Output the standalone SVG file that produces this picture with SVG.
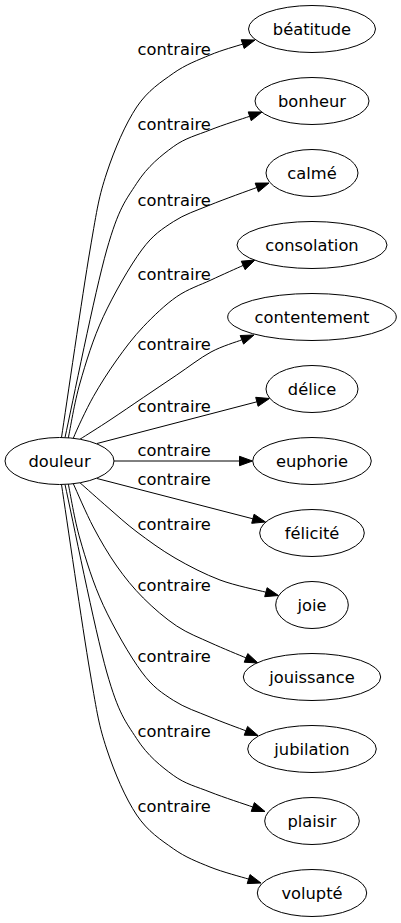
<svg xmlns="http://www.w3.org/2000/svg" width="401" height="923" viewBox="0 0 401 923">
<style>
.node ellipse{fill:#fff;stroke:#000;stroke-width:1}
text{font-family:"DejaVu Sans","Liberation Sans",sans-serif;font-size:16.3px;fill:#000;text-anchor:middle}
.edge path{fill:none;stroke:#000;stroke-width:1}
.edge polygon{fill:#000;stroke:#000;stroke-width:1}
</style>
<rect width="401" height="923" fill="#fff"/>
<g id="edges">
<g class="edge" id="e-beatitude">
<path d="M61.5,437.5 C66.3,406 82.5,294 90,250 C97.5,206 98.9,196.8 106.7,173 C114.5,149.2 125.6,123.6 136.7,107 C147.8,90.4 161.1,82 173.3,73.3 C185.5,64.6 198.4,59.9 210,55 C221.6,50.1 237.2,45.9 242.7,44.1"/>
<polygon points="244.2,48.5 255,40 241.2,39.7"/>
<text x="174.2" y="54.5">contraire</text>
</g>
<g class="edge" id="e-bonheur">
<path d="M65,437.5 C72,405.8 94.7,292.3 106.7,250 C118.7,207.7 125.6,200.5 136.7,183.3 C147.8,166.1 161.1,155.6 173.3,146.7 C185.5,137.8 197.3,135.1 210,130 C222.7,124.9 243.1,118.6 249.7,116.3"/>
<polygon points="251.2,120.7 262,112 248.2,111.9"/>
<text x="174.2" y="129.5">contraire</text>
</g>
<g class="edge" id="e-calme">
<path d="M68.3,438 C70.3,428.8 74.2,403.2 80,383 C85.8,362.8 93,338.9 103.3,316.7 C113.6,294.5 130,265.8 141.7,250 C153.4,234.2 161.9,229.2 173.3,221.7 C184.7,214.2 196.1,210.7 210,205 C223.9,199.3 249,190.4 256.8,187.5"/>
<polygon points="258.4,191.9 269,183 255.2,183.1"/>
<text x="174.2" y="206">contraire</text>
</g>
<g class="edge" id="e-consolation">
<path d="M73.3,438.3 C76.6,430 86.1,409.5 93.3,396.7 C100.5,383.9 108.4,371.7 116.7,360 C125,348.3 133.3,337.2 143.3,326.7 C153.3,316.2 165.4,304.5 176.7,296.7 C188,288.9 199.9,285.2 211,280 C222.1,274.8 237.8,267.8 243.2,265.4"/>
<polygon points="245.1,269.7 255,260 241.3,261.2"/>
<text x="174.2" y="280">contraire</text>
</g>
<g class="edge" id="e-contentement">
<path d="M80,439.2 C85,436 99.5,427 110,420 C120.6,413 132.2,405 143.3,397.5 C154.4,390 165.4,382.6 176.7,375 C188,367.4 200.1,357.9 211,352 C221.9,346.1 236.8,341.8 241.9,339.8"/>
<polygon points="243.6,344.1 254,335 240.2,335.5"/>
<text x="174.2" y="350">contraire</text>
</g>
<g class="edge" id="e-delice">
<path d="M97,443.5 L256.9,401.8"/>
<polygon points="258.1,406.3 269.5,398.5 255.7,397.3"/>
<text x="174.2" y="411.5">contraire</text>
</g>
<g class="edge" id="e-euphorie">
<path d="M114,461 L239.5,461"/>
<polygon points="239.5,465.7 252.5,461 239.5,456.3"/>
<text x="174.2" y="456">contraire</text>
</g>
<g class="edge" id="e-felicite">
<path d="M97,478.5 L252.9,518.8"/>
<polygon points="251.7,523.3 265.5,522 254.1,514.2"/>
<text x="174.2" y="484.5">contraire</text>
</g>
<g class="edge" id="e-joie">
<path d="M80,482.8 C84.7,486.9 98.5,499.3 108,507.5 C117.5,515.7 125.8,523.6 137,532 C148.2,540.4 161.2,550 175,558 C188.8,566 204.9,574.3 220,580 C235.2,585.7 258.3,590.2 265.9,592.2"/>
<polygon points="264.7,596.7 278.5,595.5 267.1,587.7"/>
<text x="174.2" y="529.5">contraire</text>
</g>
<g class="edge" id="e-jouissance">
<path d="M73.3,483.7 C76.6,490.9 86.1,513.3 93.3,527 C100.5,540.7 108.4,554.2 116.7,566 C125,577.8 133.3,588 143.3,598 C153.3,608 165.4,618.5 176.7,626 C188,633.5 199.5,637.7 211,643 C222.6,648.3 240.2,655.4 246,657.9"/>
<polygon points="244.2,662.2 258,663 247.8,653.6"/>
<text x="174.2" y="590.5">contraire</text>
</g>
<g class="edge" id="e-jubilation">
<path d="M68.3,484 C70.3,493.2 74.2,518.8 80,539 C85.8,559.2 93,583.1 103.3,605.3 C113.6,627.5 130,656.2 141.7,672 C153.4,687.8 161.9,692.8 173.3,700.3 C184.7,707.8 197.9,711.9 210,717 C222.1,722.1 239.9,728.5 245.9,730.8"/>
<polygon points="244.2,735.2 258,735.5 247.6,726.4"/>
<text x="174.2" y="662">contraire</text>
</g>
<g class="edge" id="e-plaisir">
<path d="M65,484.5 C72,516.2 94.7,629.7 106.7,672 C118.7,714.3 125.6,721.5 136.7,738.7 C147.8,755.9 161.1,766.4 173.3,775.3 C185.5,784.2 196.8,786.7 210,792 C223.3,797.3 245.7,804.5 252.8,807"/>
<polygon points="251.2,811.4 265,811.5 254.4,802.6"/>
<text x="174.2" y="736.5">contraire</text>
</g>
<g class="edge" id="e-volupte">
<path d="M61.5,484.5 C66.3,516 82.5,628 90,672 C97.5,716 98.9,725.2 106.7,749 C114.5,772.8 125.6,798.4 136.7,815 C147.8,831.6 161.1,840 173.3,848.7 C185.5,857.4 197.5,861.9 210,867 C222.6,872.1 242.2,877.1 248.6,879.1"/>
<polygon points="247.2,883.6 261,883 250,874.6"/>
<text x="174.2" y="812">contraire</text>
</g>
</g>
<g class="node" id="n-douleur"><ellipse cx="59.5" cy="461" rx="54.5" ry="23.5"/><text x="59.5" y="466.8">douleur</text></g>
<g class="node" id="n-beatitude"><ellipse cx="312" cy="29" rx="63.5" ry="23.5"/><text x="312" y="34.8">béatitude</text></g>
<g class="node" id="n-bonheur"><ellipse cx="312" cy="101" rx="57" ry="23.5"/><text x="312" y="106.8">bonheur</text></g>
<g class="node" id="n-calme"><ellipse cx="312" cy="173" rx="46" ry="23.5"/><text x="312" y="178.8">calmé</text></g>
<g class="node" id="n-consolation"><ellipse cx="312" cy="245" rx="75" ry="23.5"/><text x="312" y="250.8">consolation</text></g>
<g class="node" id="n-contentement"><ellipse cx="312" cy="317" rx="84.3" ry="23.5"/><text x="312" y="322.8">contentement</text></g>
<g class="node" id="n-delice"><ellipse cx="312" cy="389" rx="46" ry="23.5"/><text x="312" y="394.8">délice</text></g>
<g class="node" id="n-euphorie"><ellipse cx="312" cy="461" rx="59.3" ry="23.5"/><text x="312" y="466.8">euphorie</text></g>
<g class="node" id="n-felicite"><ellipse cx="312" cy="533" rx="52.3" ry="23.5"/><text x="312" y="538.8">félicité</text></g>
<g class="node" id="n-joie"><ellipse cx="312" cy="605" rx="36.3" ry="23.5"/><text x="312" y="610.8">joie</text></g>
<g class="node" id="n-jouissance"><ellipse cx="312" cy="677" rx="68.7" ry="23.5"/><text x="312" y="682.8">jouissance</text></g>
<g class="node" id="n-jubilation"><ellipse cx="312" cy="749" rx="64.3" ry="23.5"/><text x="312" y="754.8">jubilation</text></g>
<g class="node" id="n-plaisir"><ellipse cx="312" cy="821" rx="47.3" ry="23.5"/><text x="312" y="826.8">plaisir</text></g>
<g class="node" id="n-volupte"><ellipse cx="312" cy="893" rx="54.7" ry="23.5"/><text x="312" y="898.8">volupté</text></g>
</svg>
